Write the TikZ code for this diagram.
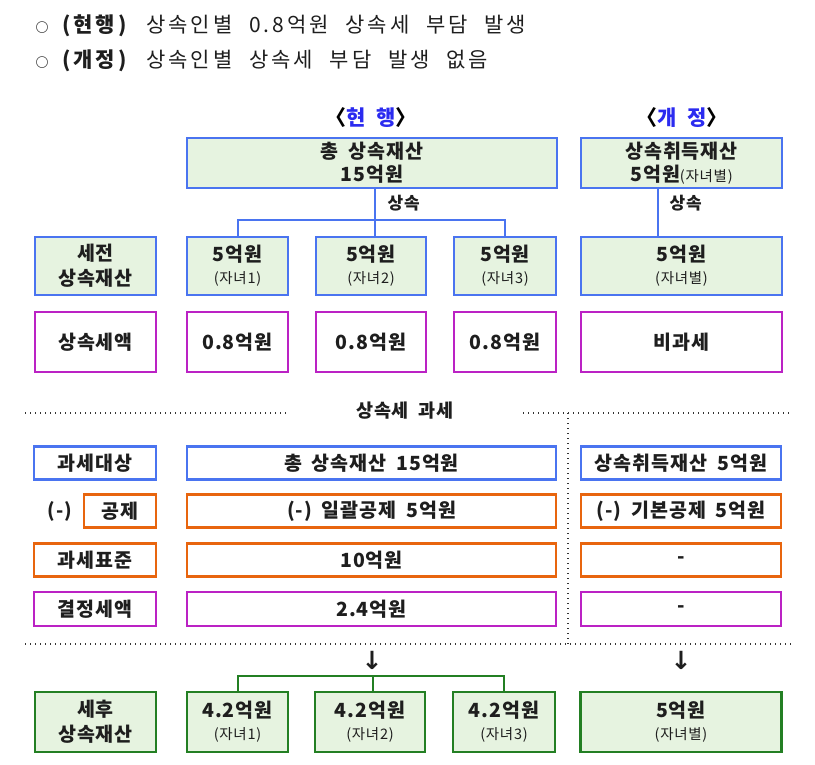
\documentclass[tikz,border=0pt]{standalone}
\usepackage{fontspec}
\setmainfont{Noto Sans CJK KR}[WordSpace=1.8, LetterSpace=5]
\newfontfamily\topfont{Noto Sans CJK KR}[WordSpace=2.2, LetterSpace=14]
\newfontfamily\symfont{DejaVu Sans}
\definecolor{cblue}{HTML}{4A74F0}
\definecolor{corange}{HTML}{E8650E}
\definecolor{cmag}{HTML}{BB22C4}
\definecolor{cgreen}{HTML}{237F23}
\definecolor{cfill}{HTML}{E6F3E0}
\definecolor{hblue}{HTML}{2B2BF0}
\definecolor{ctext}{HTML}{1E1E1E}
\newcommand{\smt}{\fontsize{14.5}{16}\selectfont\mdseries}
\newcommand{\bul}{{\fontsize{13}{13}\selectfont\bfseries ○}\hspace{12pt}}
\tikzset{
  bx/.style={draw, line width=2.6pt, inner sep=0pt, align=center, text=ctext, font=\fontsize{19.5}{25}\selectfont\bfseries},
  bluebx/.style={bx, draw=cblue, fill=cfill},
  bluewh/.style={bx, draw=cblue, fill=white},
  magbx/.style={bx, draw=cmag, fill=white},
  orbx/.style={bx, draw=corange, fill=white},
  grbx/.style={bx, draw=cgreen, fill=cfill},
  bline/.style={draw=cblue, line width=2.6pt},
  gline/.style={draw=cgreen, line width=2.6pt},
  dotln/.style={draw=black!80, line width=1.4pt, dash pattern=on 1.4pt off 3.6pt},
  lbl/.style={text=ctext, font=\fontsize{17}{19}\selectfont\bfseries},
  topln/.style={anchor=west, text=ctext, font=\topfont\fontsize{21}{24}\selectfont},
  hdr/.style={font=\fontsize{21}{23}\selectfont\bfseries},
  arw/.style={text=ctext, font=\symfont\bfseries\fontsize{25}{26}\selectfont}
}
\newcommand{\wbox}[6]{\node[#1, minimum width=#4pt, minimum height=#5pt] (#2) at (#3) {#6};}
\begin{document}
\begin{tikzpicture}[x=1pt,y=-1pt]
\useasboundingbox[fill=white] (0,0) rectangle (815,765);
% top bullet lines
\node[topln] (l1) at (32,26) {\bul\textbf{(현행)} 상속인별 0.8억원 상속세 부담 발생};
\node[topln] (l2) at (32,61) {\bul\textbf{(개정)} 상속인별 상속세 부담 발생 없음};
% headers
\node[hdr] (h1) at (371,118) {〈\textcolor{hblue}{현\hspace{0.5em}행}〉};
\node[hdr] (h2) at (682,118) {〈\textcolor{hblue}{개\hspace{0.5em}정}〉};
% top boxes
\wbox{bluebx}{tot}{372,163}{370}{50}{총 상속재산\\[-2pt]15억원}
\wbox{bluebx}{rtot}{681.5,163}{201}{50}{상속취득재산\\[-2pt]5억원{\smt (자녀별)}}
% row 2
\wbox{bluebx}{pre}{95.5,266}{121}{58}{세전\\[0pt]상속재산}
\wbox{bluebx}{c1}{237.5,266}{101}{58}{5억원\\[-3pt]{\smt (자녀1)}}
\wbox{bluebx}{c2}{371,266}{110}{58}{5억원\\[-3pt]{\smt (자녀2)}}
\wbox{bluebx}{c3}{505,266}{102}{58}{5억원\\[-3pt]{\smt (자녀3)}}
\wbox{bluebx}{rc}{681.5,266}{201}{58}{5억원\\[-3pt]{\smt (자녀별)}}
% connectors
\coordinate (jt) at (375,220);
\draw[bline] (tot.south -| jt) -- (jt);
\draw[bline] (c1.north -| 238,0) |- (jt) -| (c3.north);
\draw[bline] (jt) -- (jt |- c2.north);
\node[lbl, anchor=west] (inh1) at (384,203) {상속};
\draw[bline] (rtot.south -| 658,0) -- (rc.north -| 658,0);
\node[lbl, anchor=west] (inh2) at (666,203) {상속};
% row 3
\wbox{magbx}{taxl}{95.5,342}{121}{60}{상속세액}
\wbox{magbx}{t1}{237.5,342}{101}{60}{0.8억원}
\wbox{magbx}{t2}{371,342}{110}{60}{0.8억원}
\wbox{magbx}{t3}{505,342}{102}{60}{0.8억원}
\wbox{magbx}{tr}{681.5,342}{201}{60}{비과세}
% dotted section
\coordinate (d1a) at (25,413);
\coordinate (d1b) at (288,413);
\coordinate (d2a) at (523,413);
\coordinate (d2b) at (792,413);
\coordinate (vtop) at (568,413);
\coordinate (vbot) at (568,644);
\coordinate (d3a) at (25,644);
\coordinate (d3b) at (792,644);
\draw[dotln] (d1a) -- (d1b);
\draw[dotln] (d2a) -- (d2b);
\draw[dotln] (vtop) -- (vbot);
\draw[dotln] (d3a) -- (d3b);
\node[lbl, font=\fontsize{18.5}{20}\selectfont\bfseries] (sect) at (405,411) {상속세\hspace{10pt}과세};
% tax rows
\wbox{bluewh}{obj}{95,463}{122}{33}{과세대상}
\wbox{bluewh}{objm}{371.5,463}{369}{33}{총 상속재산 15억원}
\wbox{bluewh}{objr}{681,463}{200}{33}{상속취득재산 5억원}
\node[text=ctext, font=\fontsize{19}{20}\selectfont\bfseries] (minus) at (60,511) {(-)};
\wbox{orbx}{ded}{120,511}{72}{33}{공제}
\wbox{orbx}{dedm}{371.5,511}{369}{33}{(-) 일괄공제 5억원}
\wbox{orbx}{dedr}{681,511}{200}{33}{(-) 기본공제 5억원}
\wbox{orbx}{base}{95,560}{122}{33}{과세표준}
\wbox{orbx}{basem}{371.5,560}{369}{33}{10억원}
\wbox{orbx}{baser}{681,560}{200}{33}{-}
\wbox{magbx}{fin}{95,609}{122}{34}{결정세액}
\wbox{magbx}{finm}{371.5,609}{369}{34}{2.4억원}
\wbox{magbx}{finr}{681,609}{200}{34}{-}
% arrows
\node[arw] (ar1) at (372,660) {↓};
\node[arw] (ar2) at (681,660) {↓};
% bottom row
\wbox{grbx}{post}{95.5,722}{121}{60}{세후\\[0pt]상속재산}
\wbox{grbx}{p1}{237.5,722}{101}{60}{4.2억원\\[-3pt]{\smt (자녀1)}}
\wbox{grbx}{p2}{370,722}{110}{60}{4.2억원\\[-3pt]{\smt (자녀2)}}
\wbox{grbx}{p3}{504,722}{102}{60}{4.2억원\\[-3pt]{\smt (자녀3)}}
\wbox{grbx}{pr}{681,722}{201}{60}{5억원\\[-3pt]{\smt (자녀별)}}
\coordinate (jb) at (373,676);
\draw[gline] (p1.north -| 238,0) |- (jb) -| (p3.north);
\draw[gline] (jb) -- (jb |- p2.north);
\end{tikzpicture}
\end{document}
